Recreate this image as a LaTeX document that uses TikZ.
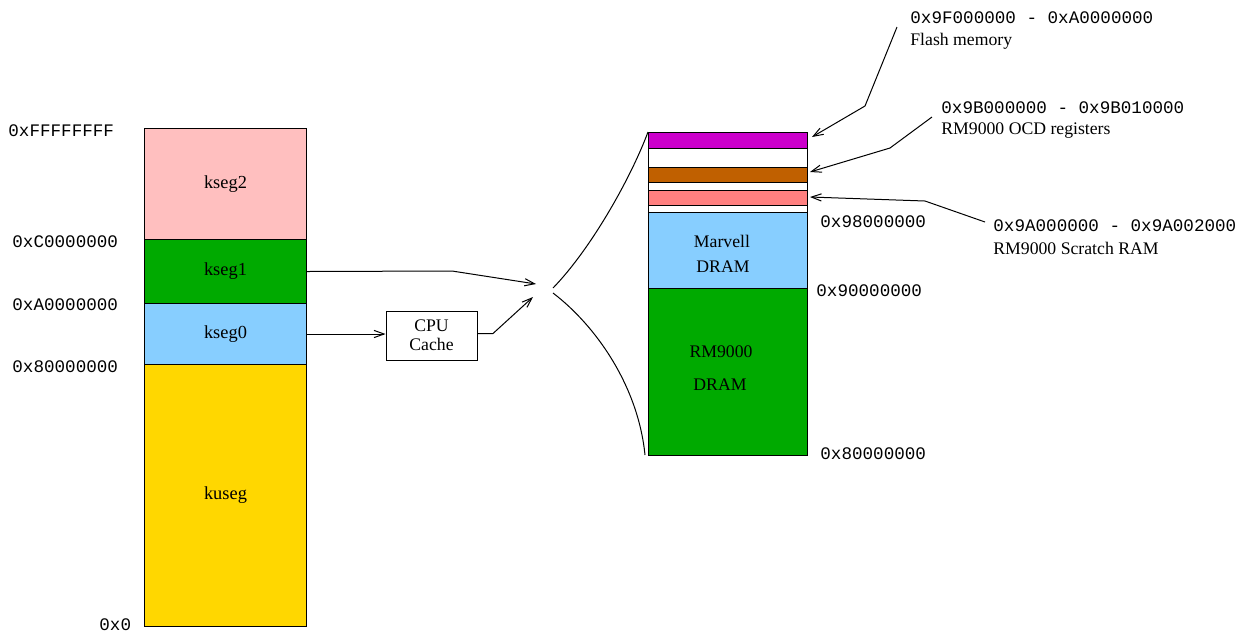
\documentclass[tikz,border=0pt]{standalone}
\usepackage{fontspec}
\setmainfont{Liberation Serif}
\setmonofont{Liberation Mono}
\usetikzlibrary{arrows.meta}
\definecolor{cpink}{HTML}{FFBFBF}
\definecolor{cgreen}{HTML}{00AA00}
\definecolor{cblue}{HTML}{87CEFF}
\definecolor{cgold}{HTML}{FFD700}
\definecolor{cmag}{HTML}{CC00CC}
\definecolor{cbrown}{HTML}{C06000}
\definecolor{csalmon}{HTML}{FF8080}
\tikzset{
  seg/.style={draw, line width=0.5pt, inner sep=0pt, anchor=north west, font=\fontsize{9.2}{10.6}\selectfont},
  lstack/.style={seg, minimum width=81pt},
  rstack/.style={seg, minimum width=79.5pt},
  addr/.style={inner sep=0pt, anchor=west, font=\fontsize{8.8}{10.6}\ttfamily},
  lbl/.style={inner sep=0pt, anchor=west, font=\fontsize{8.85}{10.6}\selectfont},
  txt/.style={inner sep=0pt, font=\fontsize{8.85}{10.6}\selectfont},
  arr/.style={line width=0.5pt, -{Straight Barb[length=5pt,width=3.6pt]}},
  ln/.style={line width=0.5pt}
}
\begin{document}
\begin{tikzpicture}[x=0.5pt, y=-0.5pt]
\useasboundingbox (0,0) rectangle (1244,634);
% left stack
\node[lstack, fill=cpink, minimum height=55.5pt] (kseg2) at (144,128) {kseg2};
\node[lstack, fill=cgreen, minimum height=32pt] (kseg1) at (144,239) {kseg1};
\node[lstack, fill=cblue, minimum height=30.5pt] (kseg0) at (144,303) {kseg0};
\node[lstack, fill=cgold, minimum height=131pt] (kuseg) at (144,364) {kuseg};
% left addresses
\node[addr] (aF) at (8,131) {0xFFFFFFFF};
\node[addr] (aC) at (12,242) {0xC0000000};
\node[addr] (aA) at (12,305) {0xA0000000};
\node[addr] (a8) at (12,367) {0x80000000};
\node[addr] (a0) at (99,625) {0x0};
% right stack
\node[rstack, fill=cmag, minimum height=8pt] (flash) at (648,132) {};
\node[rstack, fill=white, minimum height=9.5pt] (w1) at (648,148) {};
\node[rstack, fill=cbrown, minimum height=7.5pt] (ocd) at (648,167) {};
\node[rstack, fill=white, minimum height=4pt] (w2) at (648,182) {};
\node[rstack, fill=csalmon, minimum height=7.5pt] (scr) at (648,190) {};
\node[rstack, fill=white, minimum height=3.5pt] (w3) at (648,205) {};
\node[rstack, fill=cblue, minimum height=38pt] (marv) at (648,212) {};
\node[rstack, fill=cgreen, minimum height=83.5pt] (rmd) at (648,288) {};
\node[txt] (t1) at (722,241) {Marvell};
\node[txt] (t2) at (723,267) {DRAM};
\node[txt] (t3) at (721,352) {RM9000};
\node[txt] (t4) at (720,385) {DRAM};
% right addresses
\node[addr] (r98) at (820,222) {0x98000000};
\node[addr] (r90) at (816,291) {0x90000000};
\node[addr] (r80) at (820,454) {0x80000000};
% callouts
\node[addr] (c1) at (910,18) {0x9F000000 - 0xA0000000};
\node[lbl] (c1b) at (910,41) {Flash memory};
\node[addr] (c2) at (941,108) {0x9B000000 - 0x9B010000};
\node[lbl] (c2b) at (941,131) {RM9000 OCD registers};
\node[addr] (c3) at (993,226) {0x9A000000 - 0x9A002000};
\node[lbl] (c3b) at (993,248) {RM9000 Scratch RAM};
\coordinate (p1a) at (897,27);
\coordinate (p1b) at (865,106);
\coordinate (p1c) at (812,137);
\coordinate (p2a) at (932,117);
\coordinate (p2b) at (890,148);
\coordinate (p2c) at (810,172);
\coordinate (p3a) at (985,222);
\coordinate (p3b) at (925,201);
\coordinate (p3c) at (810,197);
\draw[arr] (p1a) -- (p1b) -- (p1c);
\draw[arr] (p2a) -- (p2b) -- (p2c);
\draw[arr] (p3a) -- (p3b) -- (p3c);
% cpu cache
\node[draw, line width=0.5pt, minimum width=45.5pt, minimum height=24.5pt, inner sep=0pt, align=center, font=\fontsize{8.85}{9.5}\selectfont] (cache) at (431.5,335.5) {\raisebox{-1.5pt}{CPU}\\\raisebox{-1.5pt}{Cache}};
% arrows into the junction
\coordinate (k1bend) at (452,271);
\coordinate (k1tip) at (536,284);
\draw[arr] (kseg1.east) -- (k1bend) -- (k1tip);
\draw[arr] (kseg0.east) -- (cache.west |- kseg0.east);
\coordinate (cbend) at (493,333.5);
\coordinate (ctip) at (533,297);
\draw[arr] (cache.east |- cbend) -- (cbend) -- (ctip);
% fan curves
\coordinate (fu) at (553,288);
\coordinate (fl) at (553,293);
\coordinate (flend) at (645,455);
\draw[ln] (fu) .. controls (590,250) and (630,180) .. (flash.north west);
\draw[ln] (fl) .. controls (595,325) and (638,385) .. (flend);
\end{tikzpicture}
\end{document}
